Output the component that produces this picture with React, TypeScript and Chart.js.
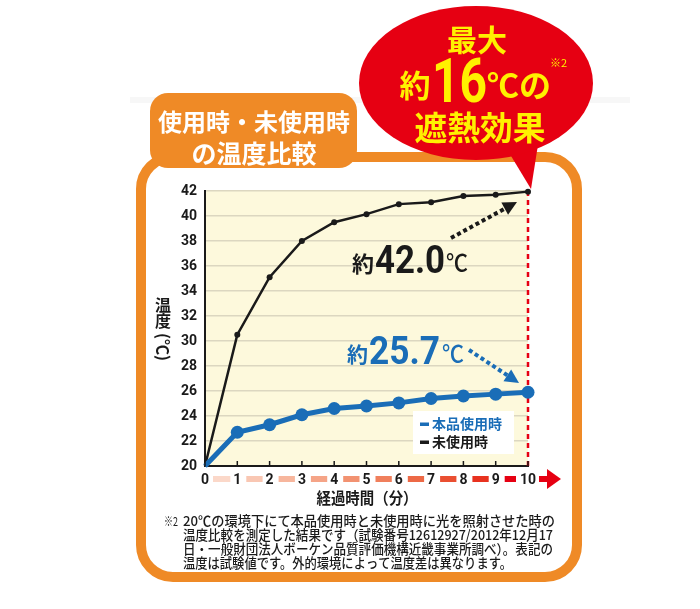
import React, { useEffect, useRef } from "react";
import { Chart, registerables } from "chart.js";

Chart.register(...registerables);

// ---- data ----
const minutes = [0, 1, 2, 3, 4, 5, 6, 7, 8, 9, 10];
const productTemps = [20, 22.7, 23.3, 24.1, 24.6, 24.8, 25.05, 25.4, 25.6, 25.75, 25.9];
const noProductTemps = [20, 30.5, 35.1, 38.0, 39.5, 40.15, 40.95, 41.1, 41.6, 41.7, 41.95];
const seriesNames = ["本品使用時", "未使用時"];
const yMin = 20;
const yMax = 42;
const yStep = 2;
const titleLines = ["使用時・未使用時", "の温度比較"];
const bubbleLines = ["最大", "約", "16", "℃の", "遮熱効果"];
const noteMark = "※2";
const xAxisTitle = "経過時間（分）";
const yAxisTitleChars = ["温", "度"];
const yAxisUnit = "(℃)";
const unusedLabel = ["約", "42.0", "℃"];
const usedLabel = ["約", "25.7", "℃"];
const footnoteLines = [
  "20℃の環境下にて本品使用時と未使用時に光を照射させた時の",
  "温度比較を測定した結果です（試験番号12612927/2012年12月17",
  "日・一般財団法人ボーケン品質評価機構近畿事業所調べ）。表記の",
  "温度は試験値です。外的環境によって温度差は異なります。",
];
const segmentColors = [
  "#fbd8c9", "#f9c7b3", "#f7b69d", "#f5a487", "#f29271",
  "#f07f5c", "#ed6946", "#ea4f31", "#e8321f", "#e60012",
];

// ---- styles ----
const ORANGE = "#ef8a26";
const RED = "#e60012";
const YELLOW = "#fff100";
const BLUE = "#1a6db7";
const BLACK = "#1a1a1a";
const CJK = '"Noto Sans CJK JP"';
const NUM = "Roboto";

function roundRectPath(ctx: CanvasRenderingContext2D, x: number, y: number, w: number, h: number, r: number) {
  ctx.beginPath();
  ctx.moveTo(x + r, y);
  ctx.lineTo(x + w - r, y);
  ctx.arcTo(x + w, y, x + w, y + r, r);
  ctx.lineTo(x + w, y + h - r);
  ctx.arcTo(x + w, y + h, x + w - r, y + h, r);
  ctx.lineTo(x + r, y + h);
  ctx.arcTo(x, y + h, x, y + h - r, r);
  ctx.lineTo(x, y + r);
  ctx.arcTo(x, y, x + r, y, r);
  ctx.closePath();
}

function txt(
  ctx: CanvasRenderingContext2D,
  s: string,
  x: number,
  y: number,
  font: string,
  color: string,
  align: CanvasTextAlign = "left",
  baseline: CanvasTextBaseline = "alphabetic",
  maxW?: number
) {
  ctx.font = font;
  ctx.fillStyle = color;
  ctx.textAlign = align;
  ctx.textBaseline = baseline;
  if (maxW) ctx.fillText(s, x, y, maxW);
  else ctx.fillText(s, x, y);
}

function dottedArrow(ctx: CanvasRenderingContext2D, x1: number, y1: number, x2: number, y2: number, color: string) {
  const ang = Math.atan2(y2 - y1, x2 - x1);
  const headLen = 14;
  const bx = x2 - Math.cos(ang) * headLen;
  const by = y2 - Math.sin(ang) * headLen;
  ctx.save();
  ctx.strokeStyle = color;
  ctx.fillStyle = color;
  ctx.lineWidth = 4;
  ctx.setLineDash([4, 3]);
  ctx.beginPath();
  ctx.moveTo(x1, y1);
  ctx.lineTo(bx, by);
  ctx.stroke();
  ctx.setLineDash([]);
  const w = 7;
  ctx.beginPath();
  ctx.moveTo(x2, y2);
  ctx.lineTo(bx + Math.cos(ang + Math.PI / 2) * w, by + Math.sin(ang + Math.PI / 2) * w);
  ctx.lineTo(bx + Math.cos(ang - Math.PI / 2) * w, by + Math.sin(ang - Math.PI / 2) * w);
  ctx.closePath();
  ctx.fill();
  ctx.restore();
}

const decorPlugin = {
  id: "decor",
  beforeDraw(chart: any) {
    const ctx: CanvasRenderingContext2D = chart.ctx;
    const { left, right, top, bottom } = chart.chartArea;
    ctx.save();
    ctx.fillStyle = "#ffffff";
    ctx.fillRect(0, 0, chart.width, chart.height);

    // faint band
    ctx.fillStyle = "#f7f7f7";
    ctx.fillRect(130, 97, 500, 6);

    // outer rounded border
    ctx.strokeStyle = ORANGE;
    ctx.lineWidth = 10;
    roundRectPath(ctx, 141, 157, 436, 420, 32);
    ctx.stroke();

    // title box
    ctx.fillStyle = ORANGE;
    roundRectPath(ctx, 150, 93, 207, 75, 18);
    ctx.fill();
    txt(ctx, titleLines[0], 254, 122, `bold 24px ${CJK}`, "#ffffff", "center", "middle", 194);
    txt(ctx, titleLines[1], 254, 153, `bold 25px ${CJK}`, "#ffffff", "center", "middle", 128);

    // bubble tail + ellipse
    ctx.fillStyle = RED;
    ctx.beginPath();
    ctx.moveTo(505, 146);
    ctx.lineTo(540, 132);
    ctx.lineTo(531, 189);
    ctx.closePath();
    ctx.fill();
    ctx.beginPath();
    ctx.ellipse(476, 83, 117, 77, 0, 0, Math.PI * 2);
    ctx.fill();

    // bubble text
    txt(ctx, bubbleLines[0], 477, 40, `bold 30px ${CJK}`, YELLOW, "center", "middle", 64);
    txt(ctx, bubbleLines[1], 415, 85, `bold 31px ${CJK}`, YELLOW, "center", "middle", 31);
    txt(ctx, bubbleLines[2], 432, 102, `bold 61px ${NUM}`, YELLOW, "left", "alphabetic", 55);
    txt(ctx, bubbleLines[3], 487, 85, `bold 32px ${CJK}`, YELLOW, "left", "middle", 67);
    txt(ctx, noteMark, 550, 63, `11px ${CJK}`, YELLOW, "left", "middle");
    txt(ctx, bubbleLines[4], 480, 127, `bold 33px ${CJK}`, YELLOW, "center", "middle", 131);

    // plot background
    ctx.fillStyle = "#fdf9dc";
    ctx.fillRect(left, top, right - left, bottom - top);
    ctx.restore();
  },
  beforeDatasetsDraw(chart: any) {
    const ctx: CanvasRenderingContext2D = chart.ctx;
    const { top, bottom } = chart.chartArea;
    const x = chart.scales.x.getPixelForValue(minutes[minutes.length - 1]);
    ctx.save();
    ctx.strokeStyle = RED;
    ctx.lineWidth = 2.5;
    ctx.setLineDash([5, 4]);
    ctx.beginPath();
    ctx.moveTo(x, top);
    ctx.lineTo(x, bottom);
    ctx.stroke();
    ctx.restore();
  },
  afterDraw(chart: any) {
    const ctx: CanvasRenderingContext2D = chart.ctx;
    const xs = chart.scales.x;
    const { bottom } = chart.chartArea;
    ctx.save();

    // x tick marks pointing up
    ctx.strokeStyle = BLACK;
    ctx.lineWidth = 1.5;
    minutes.forEach((m) => {
      const px = xs.getPixelForValue(m);
      ctx.beginPath();
      ctx.moveTo(px, bottom);
      ctx.lineTo(px, bottom - 5);
      ctx.stroke();
    });

    // gradient segments between x labels
    const segY = 476;
    for (let i = 0; i < minutes.length - 1; i++) {
      const a = xs.getPixelForValue(minutes[i]) + (i === 0 ? 8 : 9);
      const b = xs.getPixelForValue(minutes[i + 1]) - (i + 1 === 10 ? 12 : 7);
      ctx.fillStyle = segmentColors[i];
      ctx.fillRect(a, segY, b - a, 6);
    }
    const endX = xs.getPixelForValue(minutes[minutes.length - 1]) + 11;
    ctx.fillStyle = RED;
    ctx.fillRect(endX, segY, 9, 6);
    ctx.beginPath();
    ctx.moveTo(endX + 8, 469);
    ctx.lineTo(endX + 22, 479);
    ctx.lineTo(endX + 8, 489);
    ctx.closePath();
    ctx.fill();

    // axis titles
    txt(ctx, xAxisTitle, 367, 498, `bold 16px ${CJK}`, BLACK, "center", "middle", 101);
    txt(ctx, yAxisTitleChars[0], 163, 305, `bold 16px ${CJK}`, BLACK, "center", "middle");
    txt(ctx, yAxisTitleChars[1], 163, 321, `bold 16px ${CJK}`, BLACK, "center", "middle");
    ctx.save();
    ctx.translate(163, 347);
    ctx.rotate(Math.PI / 2);
    txt(ctx, yAxisUnit, 0, 0, `bold 16px ${CJK}`, BLACK, "center", "middle");
    ctx.restore();

    // value annotations
    txt(ctx, unusedLabel[0], 352, 272, `bold 22px ${CJK}`, BLACK, "left", "alphabetic");
    txt(ctx, unusedLabel[1], 375, 273, `bold 38px ${NUM}`, BLACK, "left", "alphabetic", 70);
    txt(ctx, unusedLabel[2], 446, 271, `500 23px ${CJK}`, BLACK, "left", "alphabetic", 22);
    dottedArrow(ctx, 451, 238, 517, 202, BLACK);

    txt(ctx, usedLabel[0], 347, 362, `bold 21px ${CJK}`, BLUE, "left", "alphabetic");
    txt(ctx, usedLabel[1], 369, 364, `bold 38px ${NUM}`, BLUE, "left", "alphabetic", 71);
    txt(ctx, usedLabel[2], 442, 362, `500 23px ${CJK}`, BLUE, "left", "alphabetic", 22);
    dottedArrow(ctx, 469, 350, 519, 383, BLUE);

    // legend
    ctx.fillStyle = "#ffffff";
    ctx.fillRect(413, 411, 101, 43);
    const ds = chart.data.datasets;
    [0, 1].forEach((i) => {
      const cy = 424 + i * 18;
      ctx.fillStyle = ds[i].borderColor;
      ctx.fillRect(420, cy - 1.5, 9, 3.5);
      txt(ctx, seriesNames[i], 432, cy, `bold 14px ${CJK}`, ds[i].borderColor, "left", "middle", 76);
    });

    // footnote
    txt(ctx, noteMark, 164, 521, `12px ${CJK}`, "#1a1a1a", "left", "middle", 14);
    const noteWidths = [372, 370, 370, 329];
    footnoteLines.forEach((line, i) => {
      txt(ctx, line, 183, 521 + i * 14, `500 13.5px ${CJK}`, "#1a1a1a", "left", "middle", noteWidths[i]);
    });
    ctx.restore();
  },
};

export default function App() {
  const canvasRef = useRef<HTMLCanvasElement | null>(null);

  useEffect(() => {
    if (!canvasRef.current) return;
    const yTicks: number[] = [];
    for (let v = yMin; v <= yMax; v += yStep) yTicks.push(v);

    const chart = new Chart(canvasRef.current, {
      type: "line",
      data: {
        labels: minutes,
        datasets: [
          {
            label: seriesNames[0],
            data: minutes.map((m, i) => ({ x: m, y: productTemps[i] })),
            borderColor: BLUE,
            backgroundColor: BLUE,
            borderWidth: 5,
            pointRadius: minutes.map((_, i) => (i === 0 ? 0 : 6.5)),
            pointBorderWidth: 0,
            pointBackgroundColor: BLUE,
            tension: 0,
            clip: false as any,
          },
          {
            label: seriesNames[1],
            data: minutes.map((m, i) => ({ x: m, y: noProductTemps[i] })),
            borderColor: BLACK,
            backgroundColor: BLACK,
            borderWidth: 2.5,
            pointRadius: minutes.map((_, i) => (i === 0 ? 0 : 3)),
            pointBorderWidth: 0,
            pointBackgroundColor: BLACK,
            tension: 0,
            clip: false as any,
          },
        ],
      },
      options: {
        responsive: false,
        animation: false,
        events: [],
        layout: { padding: { top: 191, right: 172, bottom: 113, left: 0 } },
        plugins: {
          legend: { display: false },
          tooltip: { enabled: false },
        },
        scales: {
          x: {
            type: "linear",
            min: minutes[0],
            max: minutes[minutes.length - 1],
            afterFit: (s: any) => {
              s.height = 30;
            },
            afterBuildTicks: (s: any) => {
              s.ticks = minutes.map((m) => ({ value: m }));
            },
            grid: { display: false, drawTicks: false },
            border: { display: true, color: BLACK, width: 2 },
            ticks: {
              padding: 6,
              color: BLACK,
              font: { family: NUM, size: 14, weight: "bold" },
              maxRotation: 0,
              autoSkip: false,
            },
          },
          y: {
            type: "linear",
            min: yMin,
            max: yMax,
            afterFit: (s: any) => {
              s.width = 205;
            },
            afterBuildTicks: (s: any) => {
              s.ticks = yTicks.map((v) => ({ value: v }));
            },
            grid: { display: true, drawTicks: false, color: "#dcd7c0", lineWidth: 1.5 },
            border: { display: true, color: BLACK, width: 2 },
            ticks: {
              padding: 8,
              color: BLACK,
              font: { family: NUM, size: 14, weight: "bold" },
              autoSkip: false,
            },
          },
        },
      },
      plugins: [decorPlugin],
    });
    return () => chart.destroy();
  }, []);

  return (
    <div style={{ position: "absolute", left: 0, top: 0, width: 700, height: 609 }}>
      <canvas ref={canvasRef} width={700} height={609} style={{ display: "block" }} />
    </div>
  );
}
